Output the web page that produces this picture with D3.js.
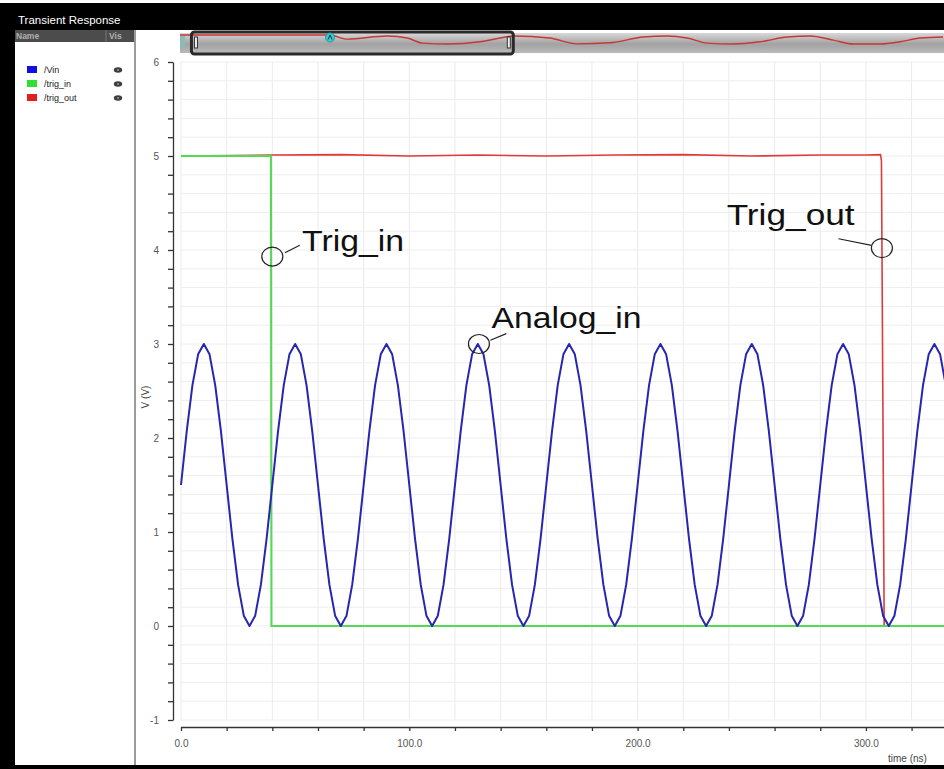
<!DOCTYPE html>
<html>
<head>
<meta charset="utf-8">
<script src="https://cdn.jsdelivr.net/npm/d3@7"></script>
<style>
  body { margin: 0; background: #000; }
  svg { display: block; font-family: "Liberation Sans", Arial, sans-serif; }
</style>
</head>
<body>
<div id="chart"></div>
<script>
const vinStart = 0, vinStep = 2.5;
const vinValues = [
  1.5, 2.07, 2.56, 2.89, 3.0, 2.89, 2.56, 2.07, 1.5, 0.93, 0.44, 0.11, 0.0, 0.11, 0.44, 0.93,
  1.5, 2.07, 2.56, 2.89, 3.0, 2.89, 2.56, 2.07, 1.5, 0.93, 0.44, 0.11, 0.0, 0.11, 0.44, 0.93,
  1.5, 2.07, 2.56, 2.89, 3.0, 2.89, 2.56, 2.07, 1.5, 0.93, 0.44, 0.11, 0.0, 0.11, 0.44, 0.93,
  1.5, 2.07, 2.56, 2.89, 3.0, 2.89, 2.56, 2.07, 1.5, 0.93, 0.44, 0.11, 0.0, 0.11, 0.44, 0.93,
  1.5, 2.07, 2.56, 2.89, 3.0, 2.89, 2.56, 2.07, 1.5, 0.93, 0.44, 0.11, 0.0, 0.11, 0.44, 0.93,
  1.5, 2.07, 2.56, 2.89, 3.0, 2.89, 2.56, 2.07, 1.5, 0.93, 0.44, 0.11, 0.0, 0.11, 0.44, 0.93,
  1.5, 2.07, 2.56, 2.89, 3.0, 2.89, 2.56, 2.07, 1.5, 0.93, 0.44, 0.11, 0.0, 0.11, 0.44, 0.93,
  1.5, 2.07, 2.56, 2.89, 3.0, 2.89, 2.56, 2.07, 1.5, 0.93, 0.44, 0.11, 0.0, 0.11, 0.44, 0.93,
  1.5, 2.07, 2.56, 2.89, 3.0, 2.89, 2.56
];

// trig_in / trig_out as (time ns, volts)
const trigInT = [0, 39.4, 39.6, 336];
const trigInV = [5.0, 5.0, 0.0, 0.0];
const trigOutT = [0, 40, 70, 100, 130, 160, 190, 220, 250, 280, 300, 306.4, 306.8, 308, 336];
const trigOutV = [5.0, 5.01, 5.015, 5.0, 5.01, 5.0, 5.01, 5.015, 5.0, 5.01, 5.01, 5.015, 4.95, 0.0, 0.0];

// overview strip trace (time ns over the whole run, volts)
const ovT = [0, 157, 175, 217, 238, 254, 280, 314, 335, 349, 387, 416, 450, 485, 510, 531, 552, 579, 607, 636, 660, 684, 705, 733, 754, 775, 799];
const ovV = [5.0, 5.0, 3.8, 4.7, 4.1, 2.6, 2.35, 3.0, 4.1, 4.7, 4.1, 2.4, 2.7, 4.4, 4.7, 4.1, 2.6, 2.35, 3.0, 4.4, 4.7, 3.5, 2.35, 2.35, 3.0, 4.1, 4.4];
const ovSelection = [12, 349];

const legendNames = ["/Vin", "/trig_in", "/trig_out"];
const legendColors = ["#1010e0", "#30e030", "#e02020"];

const xTicks = d3.range(0, 341, 20);
const yTicks = d3.range(-10, 61, 2).map(d => d / 10);

const notes = [
  { label: "Trig_in", cx: 40, cy: 3.93, lx1: 45.5, ly1: 3.97, lx2: 52, ly2: 4.05, tx: 53, ty: 3.99, w: 102 },
  { label: "Analog_in", cx: 130.5, cy: 3.0, lx1: 135.5, ly1: 3.04, lx2: 142.5, ly2: 3.11, tx: 136, ty: 3.17, w: 150 },
  { label: "Trig_out", cx: 307, cy: 4.02, lx1: 302.5, ly1: 4.05, lx2: 288, ly2: 4.12, tx: 239, ty: 4.27, w: 128 }
];

const W = 944, H = 769;
const svg = d3.select("#chart").append("svg").attr("width", W).attr("height", H);

// window frame
svg.append("rect").attr("width", W).attr("height", H).attr("fill", "#000");
svg.append("rect").attr("width", W).attr("height", 3).attr("fill", "#fff");
svg.append("text").attr("x", 18).attr("y", 24).attr("fill", "#fff")
  .style("font-size", "11.5px").text("Transient Response");

// left panel
svg.append("rect").attr("x", 15).attr("y", 30).attr("width", 120).attr("height", 12).attr("fill", "#4c4c4c");
svg.append("line").attr("x1", 106).attr("x2", 106).attr("y1", 30).attr("y2", 42).attr("stroke", "#777");
svg.append("text").attr("x", 16).attr("y", 39).attr("fill", "#b0b0b0").style("font-size", "8.5px").style("font-weight", "bold").text("Name");
svg.append("text").attr("x", 109).attr("y", 39).attr("fill", "#b0b0b0").style("font-size", "8.5px").style("font-weight", "bold").text("Vis");
svg.append("rect").attr("x", 15).attr("y", 42).attr("width", 119).attr("height", 723).attr("fill", "#fff");
svg.append("rect").attr("x", 134).attr("y", 30).attr("width", 2).attr("height", 735).attr("fill", "#9a9a9a");

const leg = svg.append("g").selectAll("g").data(legendNames).join("g")
  .attr("transform", (d, i) => `translate(0, ${70 + i * 14})`);
leg.append("rect").attr("x", 27).attr("y", -4).attr("width", 10).attr("height", 7)
  .attr("fill", (d, i) => legendColors[i]);
leg.append("text").attr("x", 44).attr("y", 3).attr("fill", "#222").style("font-size", "9px").text(d => d);
leg.append("ellipse").attr("cx", 118).attr("cy", 0).attr("rx", 4.2).attr("ry", 2.8).attr("fill", "#3e3e3e");
leg.append("circle").attr("cx", 118).attr("cy", 0).attr("r", 1).attr("fill", "#999");

// plot area
svg.append("rect").attr("x", 136).attr("y", 30).attr("width", W - 136).attr("height", 735).attr("fill", "#fff");

const x = d3.scaleLinear().domain([0, 334.2]).range([181, 944]);
const y = d3.scaleLinear().domain([-1, 6]).range([720, 62]);

// grid
const grid = svg.append("g");
grid.selectAll(".gx").data(xTicks.filter(d => x(d) <= W)).join("line")
  .attr("x1", d => x(d)).attr("x2", d => x(d)).attr("y1", y(6)).attr("y2", y(-1))
  .attr("stroke", "#ebebeb");
grid.selectAll(".gy").data(yTicks).join("line")
  .attr("x1", x(0)).attr("x2", W).attr("y1", d => y(d)).attr("y2", d => y(d))
  .attr("stroke", "#eeeeee");

// axes
const yAxis = svg.append("g").attr("transform", "translate(173,0)")
  .call(d3.axisLeft(y).tickValues(yTicks).tickSize(5).tickSizeOuter(0).tickPadding(9)
    .tickFormat(d => Math.abs(d - Math.round(d)) < 1e-9 ? String(Math.round(d)) : ""));
const xAxis = svg.append("g").attr("transform", "translate(0,727)")
  .call(d3.axisBottom(x).tickValues(xTicks).tickSize(4).tickSizeOuter(0).tickPadding(9)
    .tickFormat(d => d % 100 === 0 ? d.toFixed(1) : ""));
[yAxis, xAxis].forEach(a => {
  a.selectAll("path, line").attr("stroke", "#333").attr("stroke-width", 1.3);
  a.selectAll("text").attr("fill", "#555").style("font-size", "10px").style("font-family", "'Liberation Sans', Arial, sans-serif");
});

svg.append("text").attr("x", 888).attr("y", 762).attr("fill", "#444").style("font-size", "10px").text("time (ns)");
svg.append("text").attr("transform", "translate(149,397) rotate(-90)").attr("text-anchor", "middle")
  .attr("fill", "#444").style("font-size", "10px").text("V (V)");

// traces
svg.append("clipPath").attr("id", "plotclip").append("rect")
  .attr("x", x(0) - 1).attr("y", y(6)).attr("width", W - x(0) + 1).attr("height", y(-1) - y(6));
const traces = svg.append("g").attr("clip-path", "url(#plotclip)");
const line = d3.line().x(d => x(d[0])).y(d => y(d[1]));

traces.append("path").datum(trigOutT.map((t, i) => [t, trigOutV[i]]))
  .attr("d", line).attr("fill", "none").attr("stroke", "#e03a3a").attr("stroke-width", 1.6);
traces.append("path").datum(trigInT.map((t, i) => [t, trigInV[i]]))
  .attr("d", line).attr("fill", "none").attr("stroke", "#52da52").attr("stroke-width", 2);
traces.append("path").datum(vinValues.map((v, i) => [vinStart + i * vinStep, v]))
  .attr("d", line).attr("fill", "none").attr("stroke", "#2626b0").attr("stroke-width", 2)
  .attr("stroke-linejoin", "round");

// annotations
const ann = svg.append("g").selectAll("g").data(notes).join("g");
ann.append("ellipse").attr("cx", d => x(d.cx)).attr("cy", d => y(d.cy)).attr("rx", 10.5).attr("ry", 9.5)
  .attr("fill", "none").attr("stroke", "#222").attr("stroke-width", 1.2);
ann.append("line").attr("x1", d => x(d.lx1)).attr("y1", d => y(d.ly1)).attr("x2", d => x(d.lx2)).attr("y2", d => y(d.ly2))
  .attr("stroke", "#222").attr("stroke-width", 1.2);
ann.append("text").attr("x", d => x(d.tx)).attr("y", d => y(d.ty)).attr("fill", "#111")
  .style("font-size", "30px").attr("textLength", d => d.w).attr("lengthAdjust", "spacingAndGlyphs")
  .text(d => d.label);

// overview strip
const ox = d3.scaleLinear().domain([0, 800]).range([180, 944]);
const oy = d3.scaleLinear().domain([0, 5]).range([52, 35]);
const defs = svg.append("defs");
const grad = defs.append("linearGradient").attr("id", "ovgrad").attr("x1", 0).attr("x2", 0).attr("y1", 0).attr("y2", 1);
grad.append("stop").attr("offset", "0%").attr("stop-color", "#d8d8d8");
grad.append("stop").attr("offset", "55%").attr("stop-color", "#a2a2a2");
grad.append("stop").attr("offset", "100%").attr("stop-color", "#bababa");
svg.append("rect").attr("x", 180).attr("y", 33).attr("width", W - 180).attr("height", 20).attr("fill", "url(#ovgrad)");
svg.append("rect").attr("x", 180).attr("y", 36).attr("width", 5).attr("height", 12).attr("fill", "#8fb8b8");
svg.append("path").datum(ovT.map((t, i) => [t, ovV[i]]))
  .attr("d", d3.line().x(d => ox(d[0])).y(d => oy(d[1])).curve(d3.curveMonotoneX))
  .attr("fill", "none").attr("stroke", "#c83636").attr("stroke-width", 1.4);
svg.append("rect").attr("x", ox(ovSelection[0])).attr("y", 32).attr("width", ox(ovSelection[1]) - ox(ovSelection[0]))
  .attr("height", 22).attr("rx", 3).attr("fill", "none").attr("stroke", "#2a2a2a").attr("stroke-width", 3);
ovSelection.forEach((s, i) => {
  svg.append("rect").attr("x", ox(s) + (i === 0 ? 3 : -6)).attr("y", 37).attr("width", 3).attr("height", 11)
    .attr("fill", "#eee").attr("stroke", "#333").attr("stroke-width", 1);
});
svg.append("circle").attr("cx", 330).attr("cy", 37.5).attr("r", 4.5).attr("fill", "#3cc9cf").attr("stroke", "#1c9ca2");
svg.append("path").attr("d", "M328,39.5 L330,35 L332,39.5").attr("fill", "none").attr("stroke", "#134").attr("stroke-width", 1);

// bottom frame
svg.append("rect").attr("x", 0).attr("y", 765).attr("width", W).attr("height", 4).attr("fill", "#000");
</script>
</body>
</html>
